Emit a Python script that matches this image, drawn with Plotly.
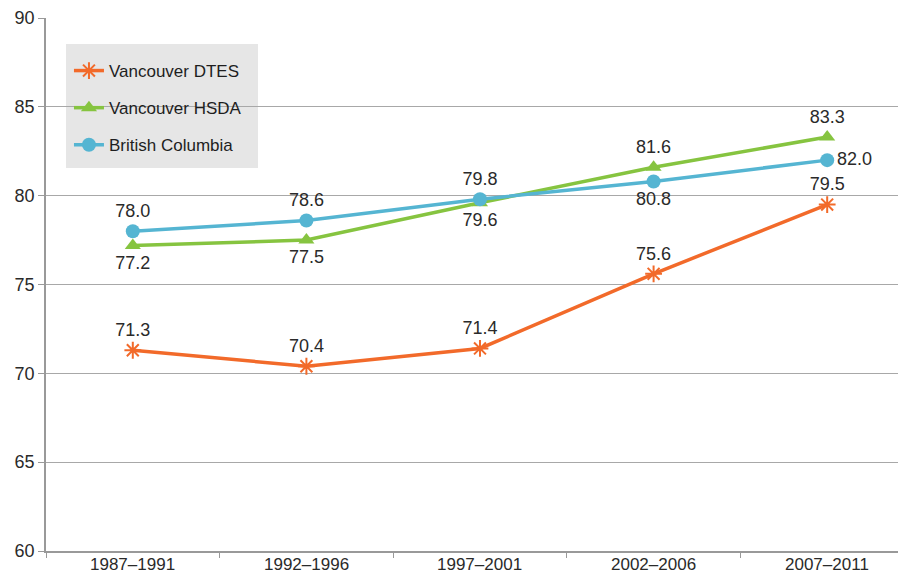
import plotly.graph_objects as go

periods = ["1987\u20131991", "1992\u20131996", "1997\u20132001", "2002\u20132006", "2007\u20132011"]
dtes = [71.3, 70.4, 71.4, 75.6, 79.5]
hsda = [77.2, 77.5, 79.6, 81.6, 83.3]
bc = [78.0, 78.6, 79.8, 80.8, 82.0]
y_ticks = [60, 65, 70, 75, 80, 85, 90]

dtes_pos = ["top center"] * 5
hsda_pos = ["bottom center", "bottom center", "bottom center", "top center", "top center"]
bc_pos = ["top center", "top center", "top center", "bottom center", "middle right"]

FAM = "Liberation Sans, Arial, sans-serif"
font_txt = dict(family=FAM, size=18, color="#2a2a2a")
X_RANGE = [-0.5, 4.454]

fig = go.Figure()
fig.add_trace(go.Scatter(
    x=periods, y=dtes, name="Vancouver DTES", mode="lines+markers+text",
    text=[f"{v:.1f}" for v in dtes], textposition=dtes_pos, textfont=font_txt,
    line=dict(color="#f26a2a", width=3.5),
    marker=dict(symbol="asterisk-open", size=14, line=dict(color="#f26a2a", width=2), color="#f26a2a"),
    legendgroup="a",
))
fig.add_trace(go.Scatter(
    x=periods, y=hsda, name="Vancouver HSDA", mode="lines+markers+text",
    text=[f"{v:.1f}" for v in hsda], textposition=hsda_pos, textfont=font_txt,
    line=dict(color="#86c440", width=3.5),
    marker=dict(symbol="triangle-up", size=14, color="#86c440"),
    legendgroup="b",
))
fig.add_trace(go.Scatter(
    x=periods, y=bc, name="British Columbia", mode="lines+markers+text",
    text=[f"{v:.1f}" for v in bc], textposition=bc_pos, textfont=font_txt,
    line=dict(color="#55b5d2", width=3.5),
    marker=dict(symbol="circle", size=14, color="#55b5d2"),
    legendgroup="c",
))

# legend background panel
fig.add_shape(type="rect", xref="paper", yref="paper",
              x0=0.0233, x1=0.2465, y0=0.7186, y1=0.9512,
              fillcolor="#e6e6e6", line=dict(width=0), layer="between")

# category labels along the x axis (placed by the category axis)
for p in periods:
    fig.add_annotation(x=p, xref="x", y=-0.0244, yref="paper", yanchor="middle",
                       text=p, showarrow=False,
                       font=dict(family=FAM, size=17, color="#2a2a2a"))

fig.update_layout(
    width=906, height=575,
    margin=dict(l=38, r=8, t=10, b=32),
    paper_bgcolor="white", plot_bgcolor="white",
    font=font_txt,
    legend=dict(
        x=0.0267, y=0.9343, xanchor="left", yanchor="top",
        bgcolor="rgba(0,0,0,0)", borderwidth=0,
        font=dict(family=FAM, size=17, color="#1e1e1e"),
        traceorder="grouped", tracegroupgap=12,
        itemwidth=30,
    ),
    xaxis=dict(
        type="category", range=X_RANGE,
        showgrid=False, showline=True, linecolor="#999999", linewidth=1.5,
        ticks="outside", tickson="boundaries", ticklen=5, tickcolor="#999999",
        showticklabels=False, automargin=False,
    ),
    yaxis=dict(
        range=[60, 90], tickvals=y_ticks,
        showgrid=True, gridcolor="#a8a8a8", gridwidth=1,
        showline=True, linecolor="#999999", linewidth=1.5,
        ticks="outside", ticklen=6, tickcolor="#999999",
        tickfont=font_txt, automargin=False, zeroline=False,
    ),
)

fig.write_html("out.html")
